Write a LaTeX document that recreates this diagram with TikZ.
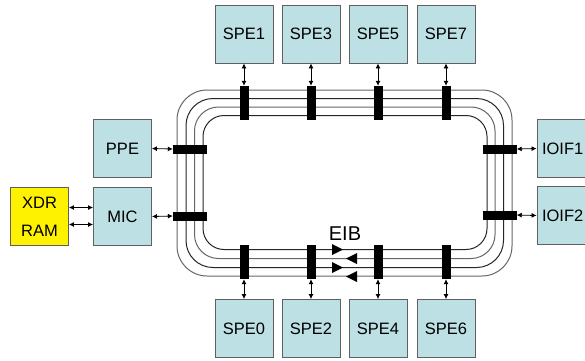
\documentclass[tikz,border=0pt]{standalone}
\usepackage{fontspec}
\setmainfont{Liberation Sans}
\usetikzlibrary{arrows.meta}
\definecolor{boxfill}{HTML}{BCE0E3}
\definecolor{boxline}{HTML}{606060}
\begin{document}
\begin{tikzpicture}[x=1pt,y=-1pt,
  unit/.style={draw=boxline,line width=0.9pt,fill=boxfill,minimum width=58pt,minimum height=58pt,inner sep=0pt,font=\fontsize{16.5}{18}\selectfont},
  ram/.style={unit,fill=yellow},
  vbar/.style={fill=black,minimum width=9pt,minimum height=34pt,inner sep=0pt},
  hbar/.style={fill=black,minimum width=34pt,minimum height=9pt,inner sep=0pt},
  link/.style={{Latex[length=5pt,width=5pt]}-{Latex[length=5pt,width=5pt]},line width=0.8pt},
  ringg/.style={line width=1pt,draw=gray!80!black},
  ringk/.style={line width=1pt,draw=black!85}]
\useasboundingbox (0,0) rectangle (585,360);
\fill[white] (0,0) rectangle (585,360);
% ring
\draw[ringg,rounded corners=30pt] (177,90) rectangle (512,276);
\draw[ringk,rounded corners=27pt] (186,98.5) rectangle (503.5,267.5);
\draw[ringg,rounded corners=24pt] (194.5,107) rectangle (495,258.5);
\draw[ringk,rounded corners=21pt] (203,115.5) rectangle (487,249.5);
% top SPEs
\foreach \n/\x in {1/244,3/311,5/378,7/446}{
  \node[unit] (spe\n) at (\x,34) {SPE\n};
  \node[vbar] (bt\n) at (\x,103) {};
  \draw[link] (spe\n.south) -- (bt\n.north);
}
% bottom SPEs
\foreach \n/\x in {0/244,2/311,4/378,6/446}{
  \node[unit] (spe\n) at (\x,328.5) {SPE\n};
  \node[vbar] (bb\n) at (\x,262) {};
  \draw[link] (bb\n.south) -- (spe\n.north);
}
% left
\node[unit] (ppe) at (122.5,148.5) {PPE};
\node[unit] (mic) at (122.5,216.5) {MIC};
\node[ram,align=center,font=\fontsize{16.5}{28}\selectfont] (xdr) at (39.5,216.5) {XDR\\RAM};
\node[hbar] (bppe) at (190,149) {};
\node[hbar] (bmic) at (190,216) {};
\draw[link] (ppe.east) -- (bppe.west);
\draw[link] (mic.east) -- (bmic.west);
\coordinate (x1) at (xdr.east |- 0,207.5);
\coordinate (x2) at (xdr.east |- 0,224.5);
\draw[link] (x1) -- (mic.west |- x1);
\draw[link] (x2) -- (mic.west |- x2);
% right
\node[unit,text width=50pt,align=left,inner sep=0pt] (io1) at (566,148.5) {\hspace*{1pt}IOIF1};
\node[unit,text width=50pt,align=left,inner sep=0pt] (io2) at (566,215.5) {\hspace*{1pt}IOIF2};
\node[hbar] (bio1) at (499.5,149) {};
\node[hbar] (bio2) at (499.5,215) {};
\draw[link] (bio1.east) -- (io1.west);
\draw[link] (bio2.east) -- (io2.west);
% EIB
\node[font=\fontsize{20}{22}\selectfont] (eib) at (345,234) {EIB};
\fill (332,244) -- (343,249.5) -- (332,255) -- cycle;
\fill (332,262) -- (343,267.5) -- (332,273) -- cycle;
\fill (357,253) -- (346,258.5) -- (357,264) -- cycle;
\fill (357,271) -- (346,276.5) -- (357,282) -- cycle;
\end{tikzpicture}
\end{document}
